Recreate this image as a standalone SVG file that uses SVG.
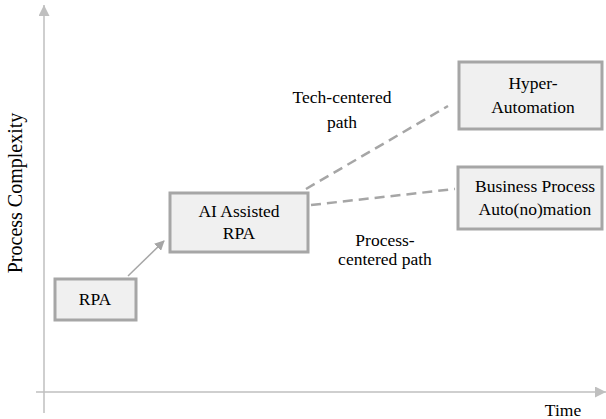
<svg xmlns="http://www.w3.org/2000/svg" width="606" height="419" viewBox="0 0 606 419" font-family="Liberation Serif, DejaVu Serif, serif">
<style>
text{font-size:17.5px;fill:#000;text-anchor:middle}
.box{fill:#f0f0f0;stroke:#a6a6a6;stroke-width:3}
.axis{stroke:#bfbfbf;stroke-width:1.5;fill:none}
.dash{stroke:#a6a6a6;stroke-width:2.5;stroke-dasharray:10 6;fill:none}
</style>
<defs>
<marker id="ah" markerWidth="10" markerHeight="10" refX="9" refY="5" orient="auto" markerUnits="userSpaceOnUse">
<path d="M0,0 L10,5 L0,10 Z" fill="#a6a6a6"/>
</marker>
<marker id="axh" markerWidth="12" markerHeight="12" refX="11" refY="5.5" orient="auto" markerUnits="userSpaceOnUse">
<path d="M0,0 L11,5.5 L0,11 Z" fill="#bfbfbf"/>
</marker>
</defs>
<g id="axes">
<line class="axis" x1="44" y1="413" x2="44" y2="5" marker-end="url(#axh)"/>
<line class="axis" x1="36" y1="392" x2="606" y2="392" marker-end="url(#axh)"/>
<text x="22" y="193" transform="rotate(-90 22 193)" style="font-size:20px">Process Complexity</text>
<text x="563" y="416">Time</text>
</g>
<g id="connectors">
<line x1="128" y1="276" x2="164" y2="241" stroke="#a6a6a6" stroke-width="1.5" marker-end="url(#ah)"/>
<line class="dash" x1="306" y1="189" x2="448" y2="106"/>
<line class="dash" x1="311" y1="205" x2="455" y2="189"/>
</g>
<g id="rpa">
<rect class="box" x="55" y="279" width="81" height="41"/>
<text x="95" y="305">RPA</text>
</g>
<g id="ai-rpa">
<rect class="box" x="170" y="193" width="138" height="59"/>
<text x="239" y="217">AI Assisted</text>
<text x="239" y="239">RPA</text>
</g>
<g id="hyper">
<rect class="box" x="459" y="62" width="143" height="67"/>
<text x="533" y="89">Hyper-</text>
<text x="533" y="113">Automation</text>
</g>
<g id="bpa">
<rect class="box" x="458" y="167" width="144" height="62"/>
<text x="535" y="192">Business Process</text>
<text x="535" y="215">Auto(no)mation</text>
</g>
<g id="labels">
<text x="342" y="103">Tech-centered</text>
<text x="342" y="128">path</text>
<text x="385" y="246">Process-</text>
<text x="385" y="265">centered path</text>
</g>
</svg>
